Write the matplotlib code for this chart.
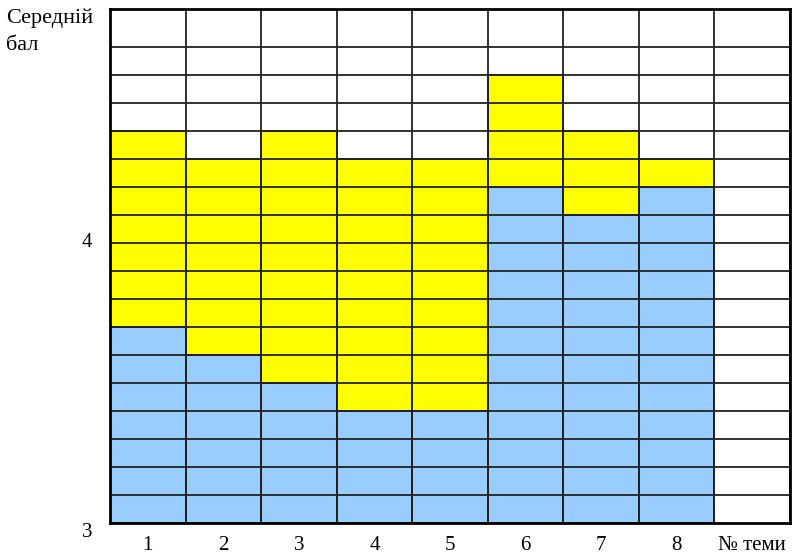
import numpy as np
import matplotlib
matplotlib.use("Agg")
import matplotlib.pyplot as plt

plt.rcParams['font.family'] = ['Liberation Serif', 'DejaVu Serif']

# average mark per topic: lower (blue) and upper (yellow) levels
topics = [1, 2, 3, 4, 5, 6, 7, 8]
low_vals = [3.7, 3.6, 3.5, 3.4, 3.4, 4.2, 4.1, 4.2]
high_vals = [4.4, 4.3, 4.4, 4.3, 4.3, 4.6, 4.4, 4.3]
x_labels = ['1', '2', '3', '4', '5', '6', '7', '8', '№ теми']
y_ticks = [3, 4]

fig = plt.figure(figsize=(7.98, 5.57), dpi=100)
ax = fig.add_axes([110 / 798, 34 / 557, 680 / 798, 514 / 557])

low = np.array(low_vals)
high = np.array(high_vals)
ax.bar(topics, low - 3, bottom=3, width=1, color='#99CCFF',
       edgecolor='black', linewidth=1.2, zorder=2)
ax.bar(topics, high - low, bottom=low, width=1, color='#FFFF00',
       edgecolor='black', linewidth=1.2, zorder=2)

ax.set_xlim(0.5, 9.5)
ax.set_ylim(3, 4.835)

ax.set_xticks(range(1, 10))
ax.set_xticklabels(x_labels, fontsize=15)
ax.set_xticks(np.arange(0.5, 9.6, 1), minor=True)
ax.set_yticks(y_ticks)
ax.set_yticklabels([str(v) for v in y_ticks], fontsize=15)
ax.tick_params(which='both', length=0)
ax.tick_params(axis='y', pad=13)
ax.tick_params(axis='x', pad=9)
for lbl in ax.get_yticklabels():
    lbl.set_verticalalignment('top' if lbl.get_text() == '3' else 'center')

# table-like grid: one line every 0.1 of a mark, one per column border
ax.grid(axis='x', which='minor', color='#222222', linewidth=1.3, zorder=3)
ax.hlines(np.arange(3.1, 4.75, 0.1), 0.5, 9.5, color='#222222',
          linewidth=1.3, zorder=3)
ax.set_axisbelow(False)
for sp in ax.spines.values():
    sp.set_linewidth(2)
    sp.set_zorder(4)

fig.text(6 / 798, 1 - 8 / 557, 'Середній\nбал', fontsize=16,
         ha='left', va='top', linespacing=1.6)

fig.savefig('out.png', dpi=100)
